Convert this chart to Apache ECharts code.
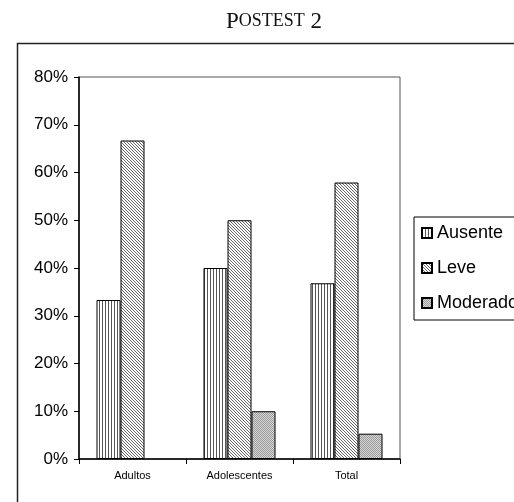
<!DOCTYPE html>
<html>
<head>
<meta charset="utf-8">
<script src="https://cdn.jsdelivr.net/npm/echarts@6/dist/echarts.min.js"></script>
<style>
html,body{margin:0;padding:0;background:#fff;}
#main{width:514px;height:502px;}
</style>
</head>
<body>
<div id="main"></div>
<script>
var categories = ['Adultos', 'Adolescentes', 'Total'];
var seriesNames = ['Ausente', 'Leve', 'Moderado'];
var ausente = [33.3, 40.0, 36.8];
var leve = [66.7, 50.0, 57.9];
var moderado = [0, 10.0, 5.3];
var yTicks = [0, 10, 20, 30, 40, 50, 60, 70, 80];

function makePattern(w, h, draw) {
  var c = document.createElement('canvas');
  c.width = w; c.height = h;
  var ctx = c.getContext('2d');
  draw(ctx);
  return { image: c, repeat: 'repeat' };
}
var patAusente = makePattern(3, 3, function (ctx) {
  ctx.fillStyle = '#ffffff'; ctx.fillRect(0, 0, 3, 3);
  ctx.fillStyle = '#555555'; ctx.fillRect(0, 0, 1, 3);
});
var patLeve = makePattern(3, 3, function (ctx) {
  ctx.fillStyle = '#ffffff'; ctx.fillRect(0, 0, 3, 3);
  ctx.fillStyle = '#666666';
  ctx.fillRect(0, 0, 1, 1); ctx.fillRect(1, 1, 1, 1); ctx.fillRect(2, 2, 1, 1);
});
var patModerado = makePattern(2, 2, function (ctx) {
  ctx.fillStyle = '#d8d8d8'; ctx.fillRect(0, 0, 2, 2);
  ctx.fillStyle = '#999999';
  ctx.fillRect(0, 0, 1, 1); ctx.fillRect(1, 1, 1, 1);
});

var chart = echarts.init(document.getElementById('main'));
function barSeries(name, data, pat) {
  return {
    name: name, type: 'bar',
    data: data.map(function (v) { return v === 0 ? { value: v, itemStyle: { borderWidth: 0 } } : v; }),
    barWidth: 24, barGap: '0%',
    itemStyle: { color: pat, borderColor: '#000', borderWidth: 1 },
    emphasis: { disabled: true }
  };
}
chart.setOption({
  animation: false,
  title: {
    text: '{a|P}{b|OSTEST}{a| 2}',
    left: 269, top: 5, textAlign: 'center',
    textStyle: {
      fontWeight: 'normal',
      rich: {
        a: { fontFamily: 'Liberation Serif', fontSize: 23, color: '#111', fontWeight: 'normal' },
        b: { fontFamily: 'Liberation Serif', fontSize: 18, color: '#111', fontWeight: 'normal' }
      }
    }
  },
  graphic: [{
    type: 'rect', left: 15, top: 41, silent: true,
    shape: { x: 0, y: 0, width: 520, height: 480 },
    style: { fill: 'none', stroke: '#222', lineWidth: 1.5 }
  }],
  legend: {
    data: seriesNames, orient: 'vertical', left: 414, top: 217,
    itemWidth: 10, itemHeight: 10, itemGap: 17, icon: 'rect',
    padding: [7, 30, 8, 7], borderColor: '#000', borderWidth: 1,
    textStyle: { fontFamily: 'Liberation Sans', fontSize: 18, color: '#000', lineHeight: 18 }
  },
  grid: { left: 79, top: 77, right: 114, bottom: 43, show: true, borderColor: '#555', borderWidth: 1 },
  xAxis: {
    type: 'category', data: categories,
    axisLine: { lineStyle: { color: '#000', width: 1.5 } },
    axisTick: { show: true, length: 5, lineStyle: { color: '#000' } },
    axisLabel: { fontFamily: 'Liberation Sans', fontSize: 11, color: '#000', margin: 11 }
  },
  yAxis: {
    type: 'value', min: yTicks[0], max: yTicks[yTicks.length - 1], interval: 10,
    axisLine: { show: true, lineStyle: { color: '#000', width: 1.5 } },
    axisTick: { show: true, length: 5, lineStyle: { color: '#000' } },
    splitLine: { show: false },
    axisLabel: { fontFamily: 'Liberation Sans', fontSize: 17, color: '#000', margin: 11, formatter: '{value}%' }
  },
  series: [
    barSeries(seriesNames[0], ausente, patAusente),
    barSeries(seriesNames[1], leve, patLeve),
    barSeries(seriesNames[2], moderado, patModerado)
  ]
});
</script>
</body>
</html>
